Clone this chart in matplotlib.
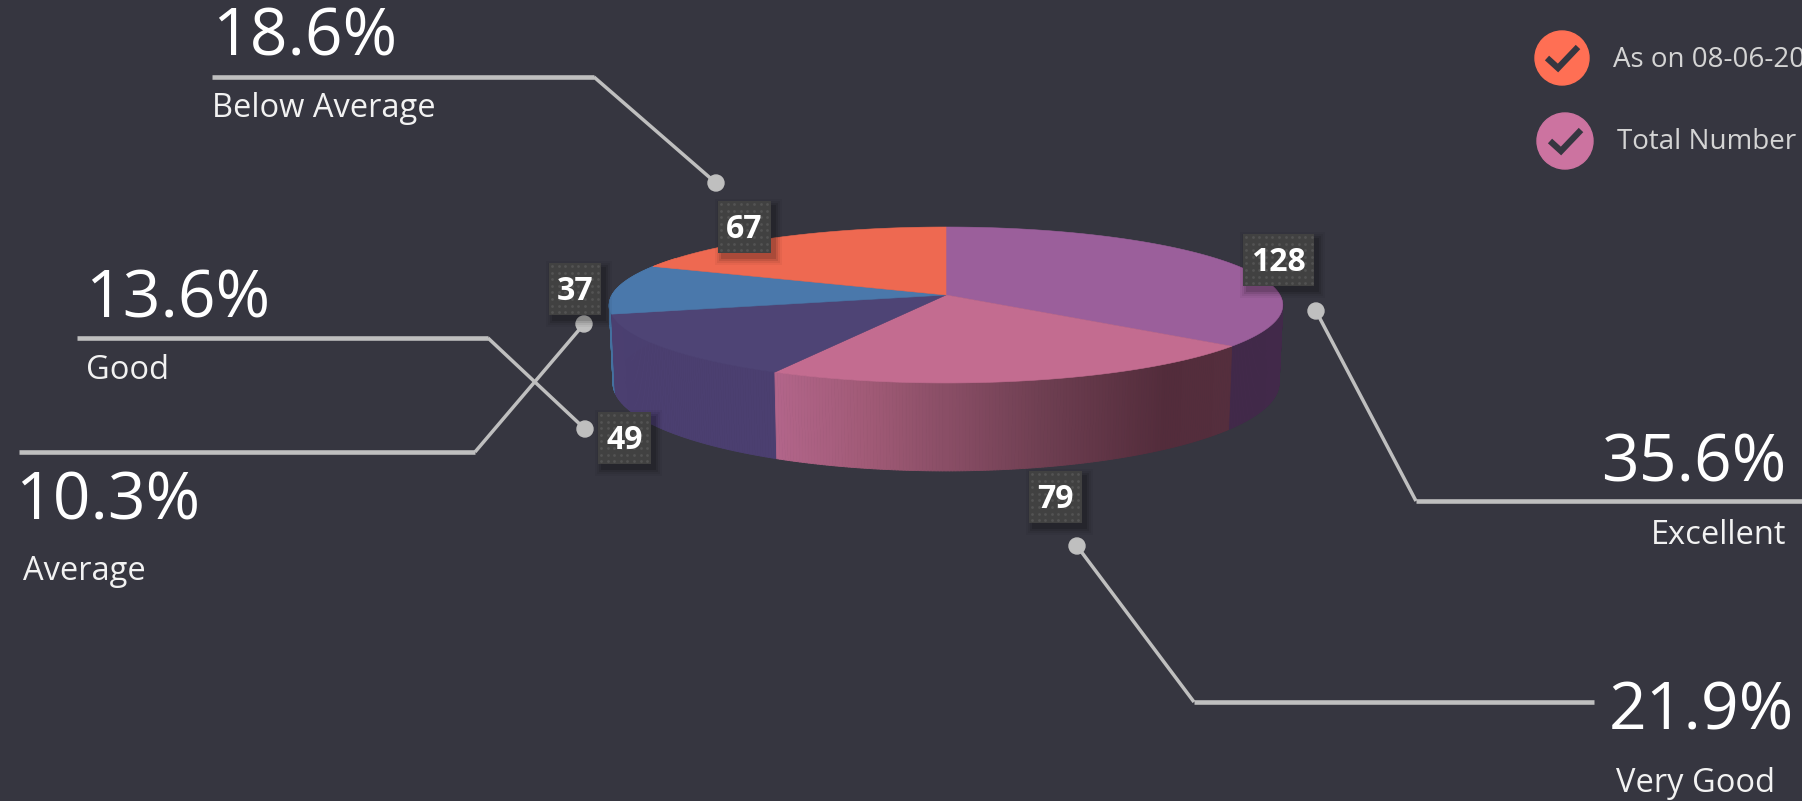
import numpy as np
import matplotlib
matplotlib.use("Agg")
import matplotlib.pyplot as plt
from matplotlib.colors import to_rgb
from matplotlib.patches import Circle, Rectangle, Polygon
from matplotlib.collections import PolyCollection

# ---- data ----
categories = ["Excellent", "Very Good", "Good", "Average", "Below Average"]
counts = [128, 79, 49, 37, 67]
percents = ["35.6%", "21.9%", "13.6%", "10.3%", "18.6%"]
legend_labels = ["As on 08-06-20", "Total Number"]

top_colors = ["#9B5F9B", "#C36C90", "#4E4475", "#4A78AB", "#EE6951"]
side_colors = ["#42294A", None, "#4B3F70", "#44719F", "#C75A47"]
BG = "#363640"
LINE = "#BFBFBF"
FONT = "Open Sans"

fig = plt.figure(figsize=(18.02, 8.01), dpi=100, facecolor=BG)
ax = fig.add_axes([0, 0, 1, 1])
ax.set_xlim(0, 1802)
ax.set_ylim(801, 0)
ax.axis("off")

# ---- pie geometry: a flat disc seen in perspective ----
CX, CY, A, B, K, DEPTH = 946.0, 295.0, 334.0, 76.7, 0.128, 76.7


def rim(theta_deg):
    t = np.radians(theta_deg)
    X, Y = np.sin(t), -np.cos(t)
    w = 1 - K * Y
    return CX + A * X / w, CY + B * Y / w, w, Y


def pink_gradient(x):
    xs = [776, 870, 946, 1040, 1165, 1229]
    stops = ["#B2658A", "#A05A76", "#8A4E66", "#6F3F52", "#532C3B", "#552E3D"]
    rgb = np.array([to_rgb(c) for c in stops])
    return tuple(np.interp(x, xs, rgb[:, i]) for i in range(3))


edges = np.concatenate([[0], np.cumsum(counts)]) / np.sum(counts) * 360.0

strips, strip_cols, strip_depth = [], [], []
for i, (a0, a1) in enumerate(zip(edges[:-1], edges[1:])):
    th = np.linspace(a0, a1, int((a1 - a0) * 2) + 2)
    x, y, w, Y = rim(th)
    xb = CX + (x - CX) * 0.989
    yb = y + DEPTH / w
    for j in range(len(th) - 1):
        if Y[j] < -0.5:
            continue
        strips.append([(x[j], y[j]), (x[j + 1], y[j + 1]), (xb[j + 1], yb[j + 1]), (xb[j], yb[j])])
        col = pink_gradient((x[j] + x[j + 1]) / 2) if side_colors[i] is None else side_colors[i]
        strip_cols.append(col)
        strip_depth.append(Y[j])
order = np.argsort(strip_depth)
strips = [strips[k] for k in order]
strip_cols = [strip_cols[k] for k in order]
ax.add_collection(PolyCollection(strips, facecolors=strip_cols, edgecolors=strip_cols, linewidths=0.6, zorder=2))

for i, (a0, a1) in enumerate(zip(edges[:-1], edges[1:])):
    th = np.linspace(a0, a1, 200)
    x, y, _, _ = rim(th)
    ax.add_patch(Polygon(np.column_stack([np.r_[CX, x], np.r_[CY, y]]), closed=True,
                         facecolor=top_colors[i], edgecolor=top_colors[i], lw=0.4, zorder=3))

# ---- callouts ----
leaders = {
    "Excellent": [(1802, 501), (1416, 501), (1316, 311)],
    "Very Good": [(1594, 702), (1194, 702), (1077, 546)],
    "Good": [(77, 338), (488, 338), (585, 429)],
    "Average": [(19, 452), (475, 452), (584, 324)],
    "Below Average": [(212, 77), (594, 77), (716, 183)],
}
pct_pos = {
    "Excellent": (1786, 482, "right"),
    "Very Good": (1794, 730, "right"),
    "Good": (85, 318, "left"),
    "Average": (15, 519, "left"),
    "Below Average": (212, 56, "left"),
}
lab_pos = {
    "Excellent": (1786, 544, "right"),
    "Very Good": (1775, 792, "right"),
    "Good": (86, 379, "left"),
    "Average": (23, 580, "left"),
    "Below Average": (212, 117, "left"),
}
for cat, pct in zip(categories, percents):
    pts = leaders[cat]
    ax.plot([pts[0][0], pts[1][0]], [pts[0][1], pts[1][1]], color=LINE, lw=3.3, solid_capstyle="butt", zorder=4)
    ax.plot([pts[1][0], pts[2][0]], [pts[1][1], pts[2][1]], color=LINE, lw=2.5, solid_capstyle="butt", zorder=4)
    ax.add_patch(Circle(pts[2], 8, color=LINE, zorder=4))
    px, py, ha = pct_pos[cat]
    ax.text(px, py, pct, color="white", fontsize=47.5, family=FONT, ha=ha, va="baseline", zorder=6)
    lx, ly, ha = lab_pos[cat]
    ax.text(lx, ly, cat, color="#F2F2F2", fontsize=23.5, family=FONT, ha=ha, va="baseline", zorder=6)

# ---- value boxes ----
box_pos = {128: (1243, 234, 71), 79: (1029, 471, 53), 49: (598, 412, 53), 37: (549, 263, 52), 67: (718, 201, 53)}
BOX_H = 52
for val in counts:
    bx, by, bw = box_pos[val]
    for grow, alpha in [(7, 0.04), (5, 0.06), (3, 0.09), (1, 0.12)]:
        ax.add_patch(Rectangle((bx + 4 - grow, by + 5 - grow), bw + 2 * grow, BOX_H + 2 * grow,
                               facecolor="black", edgecolor="none", alpha=alpha, zorder=7))
    ax.add_patch(Rectangle((bx, by), bw, BOX_H, facecolor="#414141", edgecolor="none", zorder=8))
    gx, gy = np.meshgrid(np.arange(bx + 3, bx + bw - 1, 6.6), np.arange(by + 3, by + BOX_H - 1, 6.6))
    ax.scatter(gx.ravel(), gy.ravel(), s=4, color="#535353", linewidths=0, zorder=9)
    ax.text(bx + bw / 2, by + BOX_H / 2 + 11, str(val), color="white", fontsize=23, fontweight="bold",
            family=FONT, ha="center", va="baseline", zorder=10)

# ---- legend ----
legend_items = [
    (1562, 58, 27, "#FF6F54", 1613, 67),
    (1565, 141, 28, "#CC73A0", 1617, 149),
]
for (cx, cy, r, col, tx, ty), label in zip(legend_items, legend_labels):
    ax.add_patch(Circle((cx, cy), r, color=col, zorder=4))
    ax.plot([cx - 15, cx - 4, cx + 16], [cy, cy + 10, cy - 11], color=BG, lw=4.5,
            solid_joinstyle="miter", solid_capstyle="butt", zorder=5)
    ax.text(tx, ty, label, color="#D4D4D4", fontsize=20, family=FONT, ha="left", va="baseline", zorder=5)

fig.savefig("out.png", dpi=100, facecolor=BG)
